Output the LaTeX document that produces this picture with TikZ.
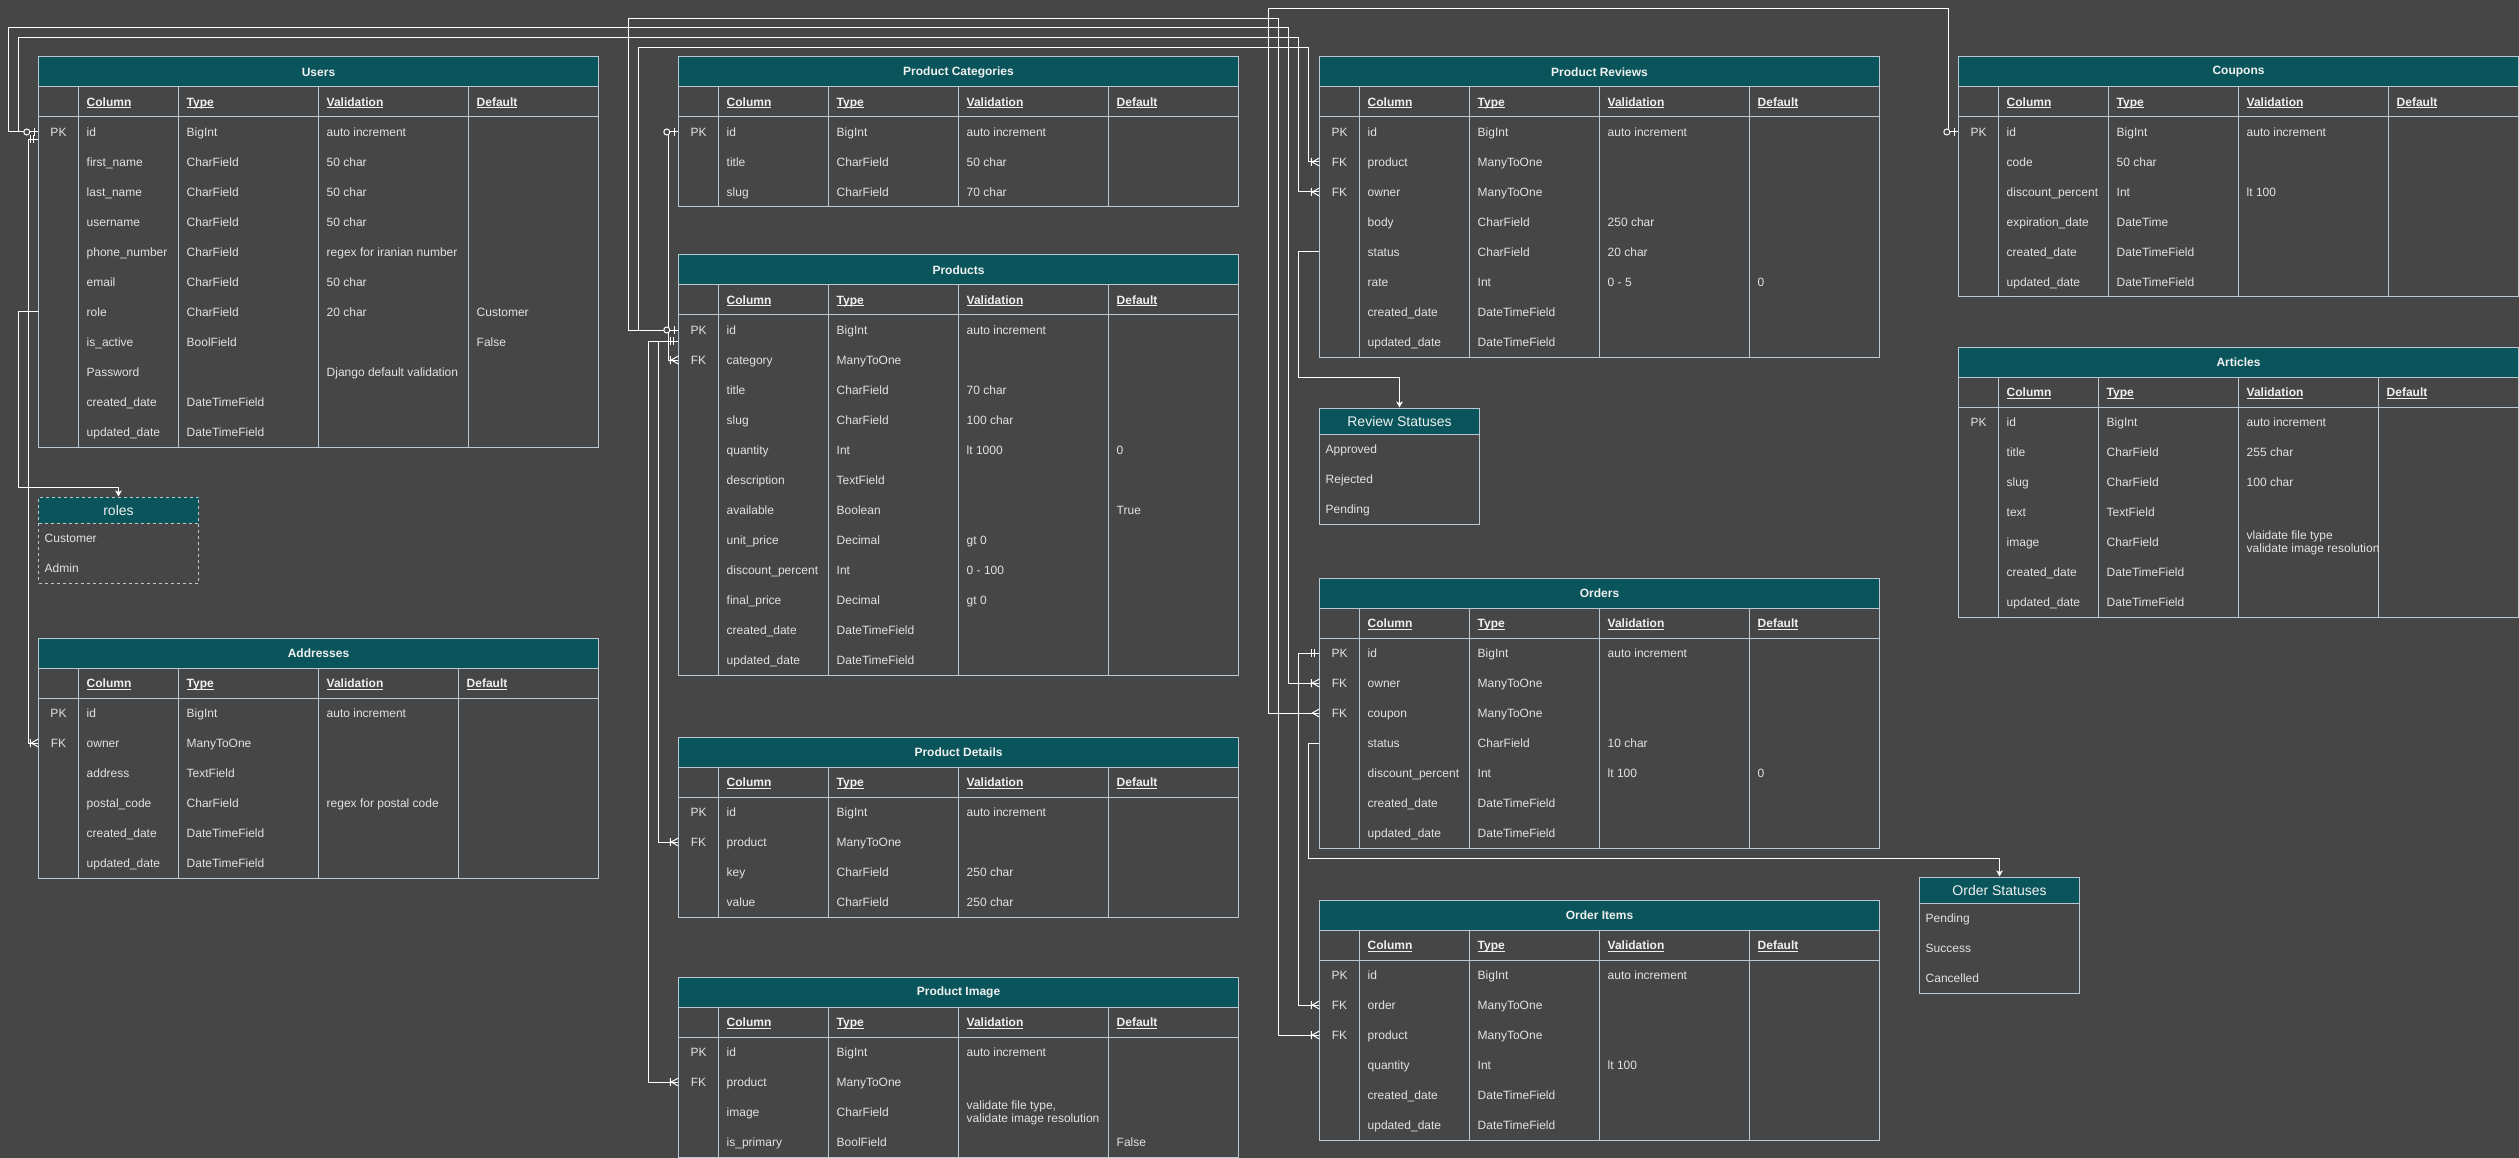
\documentclass[tikz,border=0pt]{standalone}
\usepackage{fontspec}
\setmainfont{Liberation Sans}
\usepackage{tikz}
\usetikzlibrary{backgrounds}
\usetikzlibrary{arrows.meta}

\definecolor{bgdark}{HTML}{464646}
\definecolor{headteal}{HTML}{09555B}
\definecolor{gridblue}{HTML}{BAC8D3}
\definecolor{titlewhite}{HTML}{F0F0F0}
\definecolor{cellgray}{HTML}{E2E2E2}

\newcommand{\twoline}[2]{$\vcenter{\hbox{#1}\hbox{#2}}$}
% #1 name, #2 left, #3 top, #4 column starts, #5 rows, #6 title, #7 row data
\newcommand{\ertable}[7]{%
  \begin{scope}[shift={(#2,#3)}]
    \pgfmathsetmacro\tabbot{60+30*#5}
    \fill[headfill] (0,0) rectangle (560,30);
    \node[tabtitle] (#1) at (280,15) {#6};
    \foreach \cb/\cc/\cd in {#4} {
      \draw[tabline] (0,0) rectangle (560,\tabbot);
      \draw[tabline] (0,30) -- (560,30) (0,60) -- (560,60);
      \draw[tabline] (40,30) -- (40,\tabbot) (\cb,30) -- (\cb,\tabbot)
        (\cc,30) -- (\cc,\tabbot) (\cd,30) -- (\cd,\tabbot);
      \node[colhead] at (48,45) {\underline{\smash{Column}}};
      \node[colhead] at (\cb+8,45) {\underline{\smash{Type}}};
      \node[colhead] at (\cc+8,45) {\underline{\smash{Validation}}};
      \node[colhead] at (\cd+8,45) {\underline{\smash{Default}}};
      \foreach \keyt/\colt/\typt/\valt/\dft [count=\i from 0] in {#7} {
        \node[rowbox] (#1-\i) at (280,75+30*\i) {};
        \node[keytext] at (20,75+30*\i) {\keyt};
        \node[celltext] at (48,75+30*\i) {\colt};
        \node[celltext] at (\cb+8,75+30*\i) {\typt};
        \node[celltext] at (\cc+8,75+30*\i) {\valt};
        \node[celltext] at (\cd+8,75+30*\i) {\dft};
      }
    }
  \end{scope}}

\begin{document}
\begin{tikzpicture}[x=1pt, y=-1pt, show background rectangle, inner frame sep=0pt,
  background rectangle/.style={fill=bgdark},
  tabline/.style={draw=gridblue, line width=1pt},
  headfill/.style={fill=headteal},
  tabtitle/.style={font=\fontsize{12}{13}\selectfont\bfseries, text=titlewhite},
  colhead/.style={anchor=west, inner sep=0, text height=8.6pt, text depth=0pt,
    font=\fontsize{12}{13}\selectfont\bfseries, text=titlewhite},
  keytext/.style={inner sep=0, text height=8.6pt, text depth=0pt,
    font=\fontsize{12}{13}\selectfont, text=cellgray},
  celltext/.style={keytext, anchor=west},
  rowbox/.style={minimum width=560, minimum height=30, inner sep=0},
  listbox/.style={draw=gridblue, line width=1pt, minimum width=160, inner sep=0},
  listhead/.style={font=\fontsize{14}{16}\selectfont, text=titlewhite},
  listitem/.style={celltext},
  link/.style={draw=white, line width=1pt},
  tolist/.style={link, -{Stealth[length=6pt, width=6.5pt, inset=1.5pt]}},
  zeroone/.pic={\draw[link] (-4,-4) -- (-4,4);
    \filldraw[link, fill=bgdark] (-11.5,0) circle[radius=3pt];},
  mandone/.pic={\draw[link] (-5,-4) -- (-5,4) (-8,-4) -- (-8,4);},
  onemany/.pic={\draw[link] (-8,-4) -- (-8,4) (0,-4) -- (-7,0) -- (0,4);},
  many/.pic={\draw[link] (0,-4) -- (-7,0) -- (0,4);}]
\useasboundingbox (0,0) rectangle (2519,1158);

% tables
\ertable{users}{38.5}{57}{140/280/430}{11}{Users}{
PK/id/BigInt/auto increment/,
/first\_name/CharField/50 char/,
/last\_name/CharField/50 char/,
/username/CharField/50 char/,
/phone\_number/CharField/regex for iranian number/,
/email/CharField/50 char/,
/role/CharField/20 char/Customer,
/is\_active/BoolField//False,
/Password//Django default validation/,
/created\_date/DateTimeField//,
/updated\_date/DateTimeField//}

\ertable{addr}{38.5}{638}{140/280/420}{6}{Addresses}{
PK/id/BigInt/auto increment/,
FK/owner/ManyToOne//,
/address/TextField//,
/postal\_code/CharField/regex for postal code/,
/created\_date/DateTimeField//,
/updated\_date/DateTimeField//}

\ertable{cat}{678.5}{57}{150/280/430}{3}{Product Categories}{
PK/id/BigInt/auto increment/,
/title/CharField/50 char/,
/slug/CharField/70 char/}

\ertable{prod}{678.5}{255}{150/280/430}{12}{Products}{
PK/id/BigInt/auto increment/,
FK/category/ManyToOne//,
/title/CharField/70 char/,
/slug/CharField/100 char/,
/quantity/Int/lt 1000/0,
/description/TextField//,
/available/Boolean//True,
/unit\_price/Decimal/gt 0/,
/discount\_percent/Int/0 - 100/,
/final\_price/Decimal/gt 0/,
/created\_date/DateTimeField//,
/updated\_date/DateTimeField//}

\ertable{pdet}{678.5}{737}{150/280/430}{4}{Product Details}{
PK/id/BigInt/auto increment/,
FK/product/ManyToOne//,
/key/CharField/250 char/,
/value/CharField/250 char/}

\ertable{pimg}{678.5}{977}{150/280/430}{4}{Product Image}{
PK/id/BigInt/auto increment/,
FK/product/ManyToOne//,
/image/CharField/\twoline{validate file type,}{validate image resolution}/,
/is\_primary/BoolField//False}

\ertable{rev}{1319.5}{57}{150/280/430}{8}{Product Reviews}{
PK/id/BigInt/auto increment/,
FK/product/ManyToOne//,
FK/owner/ManyToOne//,
/body/CharField/250 char/,
/status/CharField/20 char/,
/rate/Int/0 - 5/0,
/created\_date/DateTimeField//,
/updated\_date/DateTimeField//}

\ertable{orders}{1319.5}{578}{150/280/430}{7}{Orders}{
PK/id/BigInt/auto increment/,
FK/owner/ManyToOne//,
FK/coupon/ManyToOne//,
/status/CharField/10 char/,
/discount\_percent/Int/lt 100/0,
/created\_date/DateTimeField//,
/updated\_date/DateTimeField//}

\ertable{items}{1319.5}{900}{150/280/430}{6}{Order Items}{
PK/id/BigInt/auto increment/,
FK/order/ManyToOne//,
FK/product/ManyToOne//,
/quantity/Int/lt 100/,
/created\_date/DateTimeField//,
/updated\_date/DateTimeField//}

\ertable{coupons}{1958.5}{57}{150/280/430}{6}{Coupons}{
PK/id/BigInt/auto increment/,
/code/50 char//,
/discount\_percent/Int/lt 100/,
/expiration\_date/DateTime//,
/created\_date/DateTimeField//,
/updated\_date/DateTimeField//}

\ertable{articles}{1958.5}{347}{140/280/420}{7}{Articles}{
PK/id/BigInt/auto increment/,
/title/CharField/255 char/,
/slug/CharField/100 char/,
/text/TextField//,
/image/CharField/\twoline{vlaidate file type}{validate image resolution}/,
/created\_date/DateTimeField//,
/updated\_date/DateTimeField//}

% choice lists
\fill[headfill] (38.5,497) rectangle (198.5,523);
\node[listbox, dashed, minimum height=86] (roles) at (118.5,540) {};
\draw[tabline, dashed] (38.5,523) -- (198.5,523);
\node[listhead] at (118.5,510) {roles};
\node[listitem] at (44.5,538) {Customer};
\node[listitem] at (44.5,568) {Admin};

\fill[headfill] (1319.5,408) rectangle (1479.5,434);
\node[listbox, minimum height=116] (revstat) at (1399.5,466) {};
\draw[tabline] (1319.5,434) -- (1479.5,434);
\node[listhead] at (1399.5,421) {Review Statuses};
\node[listitem] at (1325.5,449) {Approved};
\node[listitem] at (1325.5,479) {Rejected};
\node[listitem] at (1325.5,509) {Pending};

\fill[headfill] (1919.5,877) rectangle (2079.5,903);
\node[listbox, minimum height=116] (ordstat) at (1999.5,935) {};
\draw[tabline] (1919.5,903) -- (2079.5,903);
\node[listhead] at (1999.5,890) {Order Statuses};
\node[listitem] at (1925.5,918) {Pending};
\node[listitem] at (1925.5,948) {Success};
\node[listitem] at (1925.5,978) {Cancelled};

% 1st pass: draw relations
\draw[link] (users-0.west) -| (8.5,27.5) -- (1288.5,27.5) |- (orders-1.west);
\draw[link] (users-0.west) -| (18.5,37.5) -- (1298.5,37.5) |- (rev-2.west);
\draw[link] ([yshift=-7.5pt]users-0.west) -- ++(-10,0) |- (addr-1.west);
\draw[link] (prod-0.west) -| (628.5,18.5) -- (1278.5,18.5) |- (items-2.west);
\draw[link] (prod-0.west) -| (638.5,48) -- (1308.5,48) |- (rev-1.west);
\draw[link] ([yshift=-11pt]prod-0.west) -- ++(-20,0) |- (pdet-1.west);
\draw[link] ([yshift=-11pt]prod-0.west) -- ++(-30,0) |- (pimg-1.west);
\draw[link] (cat-0.west) -- ++(-10,0) |- (prod-1.west);
\draw[link] (coupons-0.west) -| (1948.5,8.5) -- (1268.5,8.5) |- (orders-2.west);
\draw[link] (orders-0.west) -- ++(-21,0) |- (items-1.west);

% 2nd pass: draw arrows to choice lists
\draw[tolist] (users-6.west) -| (18.5,487) -| (roles.north);
\draw[tolist] (rev-4.west) -| (1298.5,377) -| (revstat.north);
\draw[tolist] (orders-3.west) -| (1308.5,858) -| (ordstat.north);

% 3rd pass: draw ends
\pic at (users-0.west) {zeroone};
\pic at (prod-0.west) {zeroone};
\pic at (cat-0.west) {zeroone};
\pic at (coupons-0.west) {zeroone};
\pic at ([yshift=-7.5pt]users-0.west) {mandone};
\pic at ([yshift=-11pt]prod-0.west) {mandone};
\pic at (orders-0.west) {mandone};
\pic at (addr-1.west) {onemany};
\pic at (prod-1.west) {onemany};
\pic at (pdet-1.west) {onemany};
\pic at (pimg-1.west) {onemany};
\pic at (rev-1.west) {onemany};
\pic at (rev-2.west) {onemany};
\pic at (orders-1.west) {onemany};
\pic at (items-1.west) {onemany};
\pic at (items-2.west) {onemany};
\pic at (orders-2.west) {many};

\end{tikzpicture}
\end{document}
